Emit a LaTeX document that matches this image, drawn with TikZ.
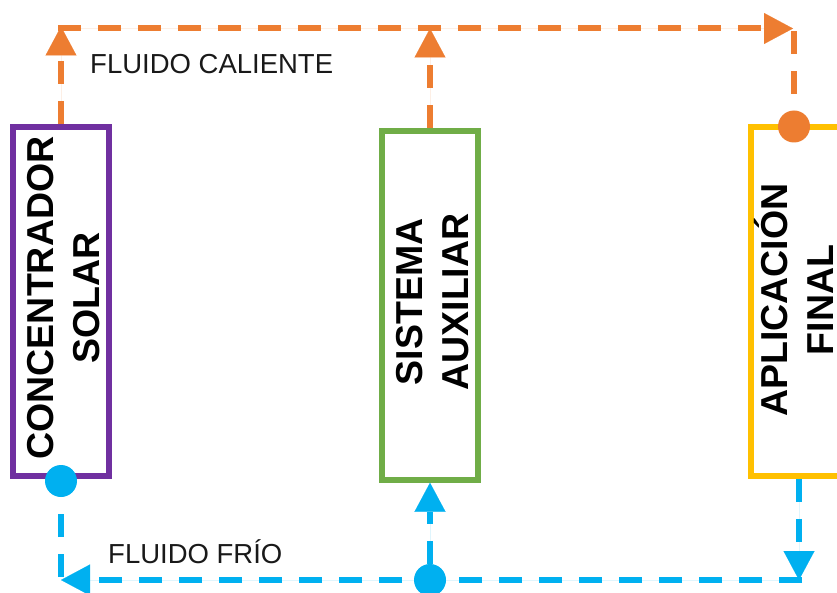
\documentclass[tikz,border=0pt]{standalone}
\usepackage{fontspec}
\setmainfont{Liberation Sans}
\usetikzlibrary{arrows.meta}
\definecolor{cpurple}{HTML}{7030A0}
\definecolor{cgreen}{HTML}{70AD47}
\definecolor{cyellow}{HTML}{FFC000}
\definecolor{corange}{HTML}{ED7D31}
\definecolor{cblue}{HTML}{00B0F0}
\tikzset{
  unitbox/.style={draw=#1, line width=6pt, fill=white, minimum width=96pt, minimum height=349pt, inner sep=0pt},
  boxlabel/.style={rotate=90, align=center, inner sep=0pt, font=\fontsize{37.5}{46}\selectfont\bfseries, text=black},
  flowlabel/.style={anchor=base west, inner sep=0pt, font=\fontsize{27.5}{33}\selectfont, text=black!90},
  flow/.style={draw=#1, line width=6pt, dash pattern=on 23pt off 17pt},
  tri/.style={-{Triangle[length=29pt,width=31pt,line width=0.1pt]}},
  dot/.style={circle, fill=#1, minimum size=32pt, inner sep=0pt}
}
\begin{document}
\begin{tikzpicture}[x=1pt,y=-1pt]
\useasboundingbox (0,0) rectangle (837,593);
\clip (0,0) rectangle (837,593);
% boxes
\node[unitbox=cpurple] (cs) at (61,301.25) {};
\node[unitbox=cgreen] (sa) at (430,305.25) {};
\node[unitbox=cyellow] (af) at (799,301.25) {};
\node[boxlabel] (csl) at (64,298) {CONCENTRADOR\\SOLAR};
\node[boxlabel] (sal) at (432.5,302) {SISTEMA\\AUXILIAR};
\node[boxlabel] (afl) at (793.5,300) {APLICACIÓN\\FINAL};
% corners
\coordinate (c1) at (61,28.5);
\coordinate (c2) at (794,28.5);
\coordinate (c3) at (430,28.5);
\coordinate (c4) at (799,580);
\coordinate (c5) at (61,580);
% hot flow
\draw[flow=corange, tri, fill=corange] (cs.north) -- ([yshift=2pt]c1);
\draw[flow=corange, tri, fill=corange] (sa.north) -- (c3);
\draw[flow=corange, tri, fill=corange] ([xshift=-3pt]c1) -- ([xshift=-1pt]c2);
\node[dot=corange] (od) at (794,126.5) {};
\draw[flow=corange] ([yshift=-3pt]c2) -- (od);
% cold flow
\node[dot=cblue] (bd) at (61,481) {};
\node[dot=cblue] (jd) at (430,580) {};
\draw[flow=cblue, tri, fill=cblue] (af.south) -- (c4);
\draw[flow=cblue, tri, fill=cblue] ([xshift=3pt]c4) -- (c5);
\draw[flow=cblue] ([yshift=3pt]c5) -- (bd);
\draw[flow=cblue, tri, fill=cblue] (jd) -- (sa.south);
% labels
\node[flowlabel] (hot) at (90,74) {FLUIDO CALIENTE};
\node[flowlabel] (cold) at (108,563) {FLUIDO FRÍO};
\end{tikzpicture}
\end{document}
